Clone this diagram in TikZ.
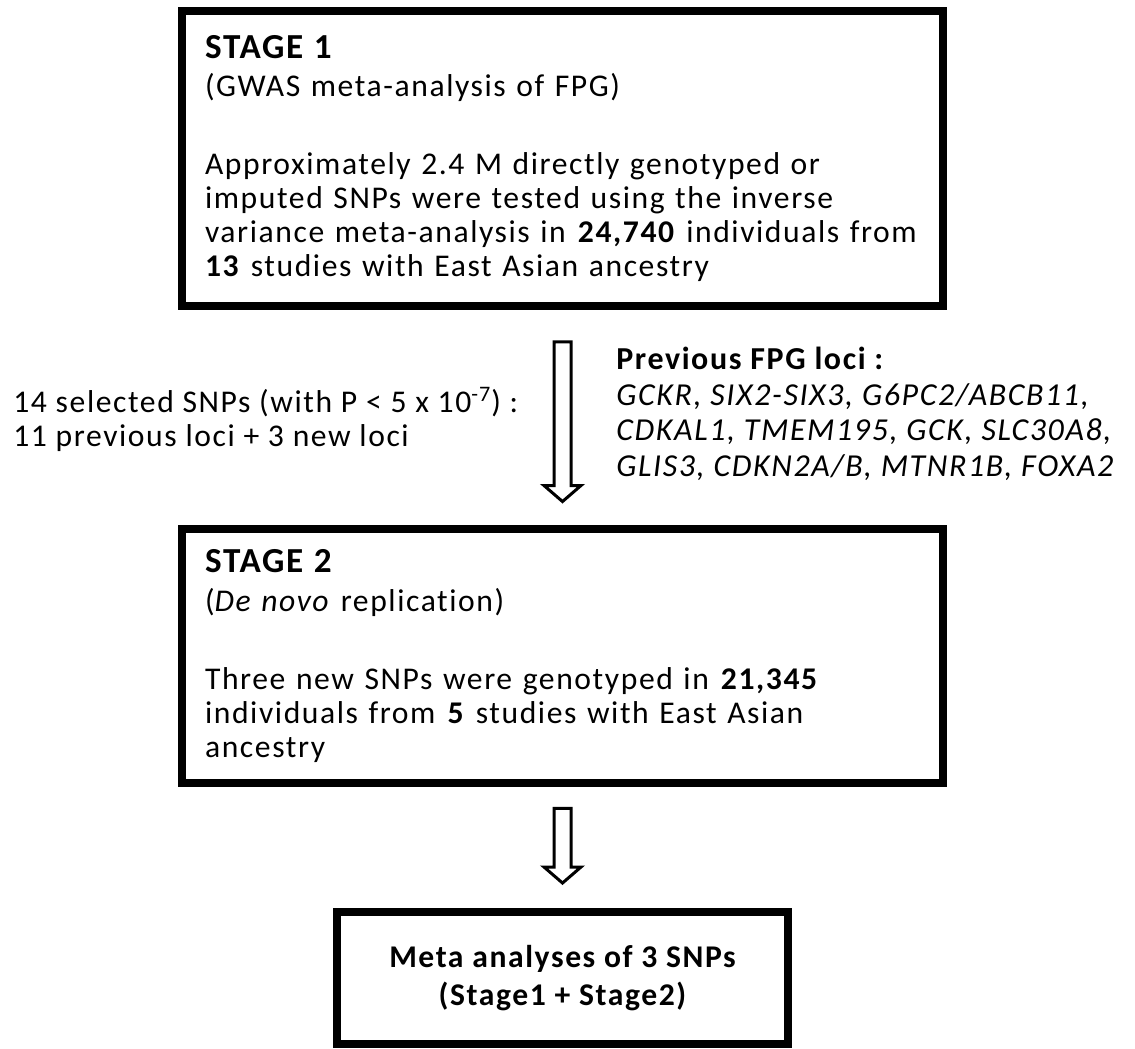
\documentclass[tikz,border=0pt]{standalone}
\usepackage{fontspec}
\setmainfont{Carlito}[LetterSpace=5,Ligatures={NoCommon}]
\usetikzlibrary{positioning,calc}

\newcommand{\bodyfont}{\fontsize{18}{19.4}\selectfont}
\newcommand{\headfont}{\fontsize{20}{22}\selectfont\bfseries}

% hollow block arrow from #1 (top of shaft) down to #2 (tip)
\newcommand{\hollowarrow}[2]{%
  \draw[hollow arrow] ($(#1)+(-8.5,0)$) -- ($(#1)+(8.5,0)$) -- ($(#2)+(8.5,-16)$)
    -- ($(#2)+(18.5,-16)$) -- (#2) -- ($(#2)+(-18.5,-16)$) -- ($(#2)+(-8.5,-16)$) -- cycle;}

\begin{document}
\begin{tikzpicture}[x=0.02cm,y=-0.02cm,
  stage box/.style={draw,line width=0.16cm,inner xsep=0.46cm,inner ysep=0pt,
    align=left,font=\bodyfont},
  result box/.style={draw,line width=0.16cm,align=center,font=\fontsize{18}{21.5}\selectfont\bfseries,
    minimum width=9.02cm,minimum height=2.64cm},
  side text/.style={inner sep=0pt,align=left,font=\bodyfont},
  hollow arrow/.style={draw,line width=0.06cm,fill=white,line join=miter}]

  \useasboundingbox (0,0) rectangle (1135,1048);

  \node[stage box,text width=14.3cm,minimum height=5.9cm] (s1) at (562.5,158.5)
    {{\headfont STAGE 1}\\[2pt]
     (GWAS meta-analysis of FPG)\\[25pt]
     Approximately 2.4 M directly genotyped or\\
     imputed SNPs were tested using the inverse\\
     variance meta-analysis in \textbf{24,740} individuals from\\
     \textbf{13} studies with East Asian ancestry};

  \node[stage box,text width=14.3cm,minimum height=5.1cm] (s2) at (562.5,656)
    {{\headfont STAGE 2}\\[2.5pt]
     (\textit{De novo} replication)\\[25pt]
     Three new SNPs were genotyped in \textbf{21,345}\\
     individuals from \textbf{5} studies with East Asian\\
     ancestry};

  \node[result box] (s3) at (562.5,978)
    {\rule{0pt}{8pt}Meta analyses of 3 SNPs\\(Stage1 + Stage2)};

  \node[side text,anchor=west] (sel) at (13,419)
    {14 selected SNPs (with P < 5 x 10\textsuperscript{-7}) :\\
     11 previous loci + 3 new loci};

  \node[side text,anchor=west,font=\fontsize{18.2}{20.2}\selectfont\itshape] (loci) at (616,414)
    {\textbf{\upshape Previous FPG loci :}\\
     GCKR, SIX2-SIX3, G6PC2/ABCB11,\\
     CDKAL1, TMEM195, GCK, SLC30A8,\\
     GLIS3, CDKN2A/B, MTNR1B, FOXA2};

  \coordinate (a1top) at ($(s1.south)+(0,32)$);
  \coordinate (a1tip) at ($(s2.north)+(0,-23)$);
  \coordinate (a2top) at ($(s2.south)+(0,21)$);
  \coordinate (a2tip) at ($(s3.north)+(0,-25)$);

  \hollowarrow{a1top}{a1tip}
  \hollowarrow{a2top}{a2tip}

\end{tikzpicture}
\end{document}
